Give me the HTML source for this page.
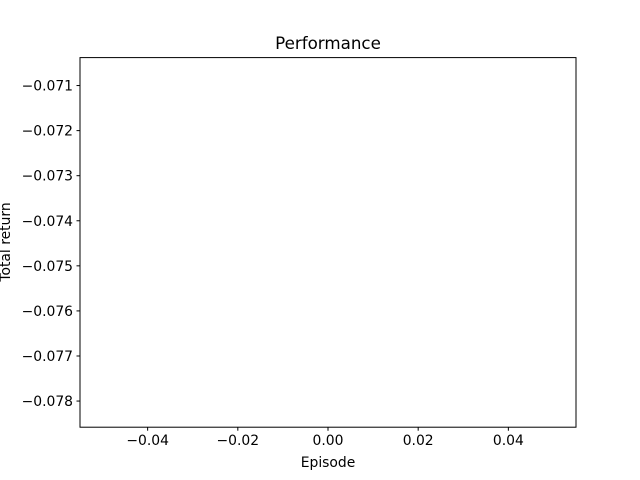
<!DOCTYPE html>
<html><head><meta charset="utf-8"><style>
html,body{margin:0;padding:0;background:#fff;}
svg{display:block;font-family:"DejaVu Sans","Liberation Sans",sans-serif;}
</style></head><body>
<svg id="chart" width="640" height="480" xmlns="http://www.w3.org/2000/svg">
<rect width="640" height="480" fill="#fff"/>
<text x="328" y="49" font-size="16.7" text-anchor="middle">Performance</text>
<g id="xt"></g>
<g id="yt"></g>
<g id="series"></g>
<rect x="80" y="57.6" width="496" height="369.6" fill="none" stroke="#000" stroke-width="1"/>
<text x="328" y="467" font-size="13.9" text-anchor="middle">Episode</text>
<text transform="translate(10,242) rotate(-90)" font-size="13.9" text-anchor="middle">Total return</text>
</svg>
<script>
const episodes = [0];
const totalReturns = [-0.0745];
const xTicks = [-0.04, -0.02, 0.00, 0.02, 0.04];
const xTickLabels = ["−0.04", "−0.02", "0.00", "0.02", "0.04"];
const yTicks = [-0.071, -0.072, -0.073, -0.074, -0.075, -0.076, -0.077, -0.078];
const yTickLabels = ["−0.071", "−0.072", "−0.073", "−0.074", "−0.075", "−0.076", "−0.077", "−0.078"];
const xMin = -0.055, xMax = 0.055, yMin = -0.07858, yMax = -0.07038;
const L = 80, R = 576, T = 57.6, B = 427.2;
const NS = "http://www.w3.org/2000/svg";
function xs(v){return L + (v - xMin) / (xMax - xMin) * (R - L);}
function ys(v){return B - (v - yMin) / (yMax - yMin) * (B - T);}
function mk(tag, attrs){const e = document.createElementNS(NS, tag); for (const k in attrs) e.setAttribute(k, attrs[k]); return e;}
const xg = document.getElementById('xt'), yg = document.getElementById('yt');
xTicks.forEach((t, i) => {
  const x = xs(t);
  const ln = mk('line', {x1: x, x2: x, y1: B, y2: B + 3.5, stroke: '#000'});
  
  
  xg.appendChild(ln);
  const tx = mk('text', {x: x, y: B + 18, 'font-size': 13.9, 'text-anchor': 'middle'});
  tx.textContent = xTickLabels[i];
  
  
  xg.appendChild(tx);
});
yTicks.forEach((t, i) => {
  const y = ys(t);
  const ln = mk('line', {x1: L - 3.5, x2: L, y1: y, y2: y, stroke: '#000'});
  
  
  yg.appendChild(ln);
  const tx = mk('text', {x: L - 7, y: y + 5, 'font-size': 13.9, 'text-anchor': 'end'});
  tx.textContent = yTickLabels[i];
  
  
  yg.appendChild(tx);
});
const pts = episodes.map((e, i) => xs(e) + ',' + ys(totalReturns[i])).join(' ');
const pl = mk('polyline', {points: pts, fill: 'none', stroke: '#1f77b4', 'stroke-width': 1.5});


document.getElementById('series').appendChild(pl);
</script>
</body></html>
